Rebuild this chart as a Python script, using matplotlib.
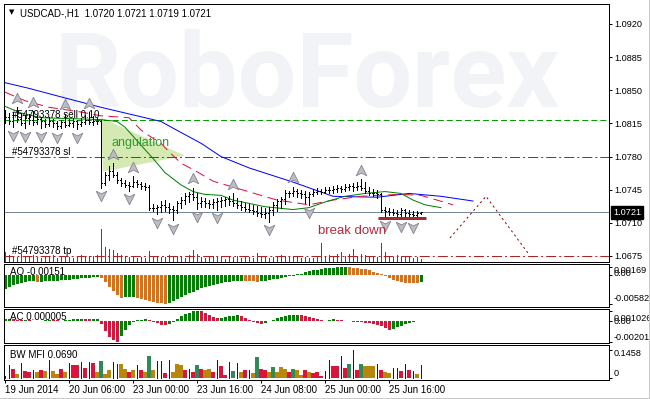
import matplotlib
matplotlib.use("Agg")
import matplotlib.pyplot as plt
import numpy as np
from matplotlib.transforms import ScaledTranslation, blended_transform_factory
from matplotlib.patches import Polygon
from matplotlib.path import Path
from matplotlib.lines import Line2D

plt.rcParams['font.family'] = ['Liberation Sans', 'DejaVu Sans']
plt.rcParams['lines.scale_dashes'] = False

# ---------------- data ----------------
header_text = "USDCAD-,H1  1.0720 1.0721 1.0719 1.0721"
open_first = 1.0818
highs = [
    1.0829, 1.0826, 1.0827, 1.0832, 1.0826, 1.0824, 1.0825, 1.0828, 1.0824, 1.0822,
    1.0820, 1.0822, 1.0820, 1.0818, 1.0819, 1.0825, 1.0820, 1.0821, 1.0819, 1.0821,
    1.0824, 1.0827, 1.0823, 1.0821, 1.0819, 1.0764, 1.0770, 1.0773, 1.0764, 1.0757,
    1.0755, 1.0753, 1.0759, 1.0755, 1.0753, 1.0752, 1.0750, 1.0730, 1.0729, 1.0733,
    1.0734, 1.0731, 1.0728, 1.0733, 1.0737, 1.0741, 1.0743, 1.0747, 1.0742, 1.0737,
    1.0736, 1.0734, 1.0735, 1.0736, 1.0737, 1.0737, 1.0738, 1.0741, 1.0736, 1.0733,
    1.0731, 1.0730, 1.0729, 1.0728, 1.0727, 1.0726, 1.0727, 1.0732, 1.0735, 1.0737,
    1.0745, 1.0744, 1.0748, 1.0746, 1.0745, 1.0744, 1.0743, 1.0746, 1.0747, 1.0746,
    1.0748, 1.0748, 1.0749, 1.0750, 1.0749, 1.0751, 1.0751, 1.0752, 1.0753, 1.0756,
    1.0753, 1.0748, 1.0746, 1.0745, 1.0742, 1.0727, 1.0726, 1.0725, 1.0724, 1.0726,
    1.0725, 1.0724, 1.0722, 1.0722, 1.0721]
lows = [
    1.0815, 1.0814, 1.0811, 1.0816, 1.0813, 1.0810, 1.0814, 1.0813, 1.0814, 1.0810,
    1.0811, 1.0812, 1.0811, 1.0809, 1.0810, 1.0811, 1.0812, 1.0811, 1.0809, 1.0812,
    1.0814, 1.0814, 1.0813, 1.0814, 1.0747, 1.0750, 1.0755, 1.0758, 1.0752, 1.0749,
    1.0748, 1.0744, 1.0748, 1.0748, 1.0746, 1.0745, 1.0723, 1.0722, 1.0719, 1.0721,
    1.0722, 1.0720, 1.0713, 1.0720, 1.0726, 1.0730, 1.0732, 1.0734, 1.0725, 1.0727,
    1.0727, 1.0726, 1.0726, 1.0724, 1.0727, 1.0728, 1.0729, 1.0728, 1.0726, 1.0724,
    1.0722, 1.0721, 1.0719, 1.0717, 1.0716, 1.0715, 1.0711, 1.0718, 1.0722, 1.0726,
    1.0730, 1.0737, 1.0738, 1.0737, 1.0736, 1.0731, 1.0729, 1.0738, 1.0740, 1.0740,
    1.0741, 1.0742, 1.0742, 1.0743, 1.0743, 1.0744, 1.0745, 1.0744, 1.0745, 1.0745,
    1.0742, 1.0739, 1.0738, 1.0736, 1.0721, 1.0716, 1.0718, 1.0718, 1.0717, 1.0715,
    1.0717, 1.0716, 1.0714, 1.0716, 1.0719]
closes = [
    1.0822, 1.0818, 1.0824, 1.0820, 1.0815, 1.0821, 1.0819, 1.0816, 1.0820, 1.0817,
    1.0814, 1.0818, 1.0815, 1.0812, 1.0816, 1.0813, 1.0815, 1.0817, 1.0814, 1.0816,
    1.0819, 1.0816, 1.0818, 1.0817, 1.0752, 1.0760, 1.0765, 1.0760, 1.0755, 1.0752,
    1.0750, 1.0749, 1.0753, 1.0751, 1.0749, 1.0748, 1.0726, 1.0726, 1.0727, 1.0729,
    1.0727, 1.0725, 1.0724, 1.0731, 1.0734, 1.0738, 1.0740, 1.0737, 1.0731, 1.0733,
    1.0731, 1.0730, 1.0732, 1.0733, 1.0734, 1.0735, 1.0733, 1.0731, 1.0729, 1.0727,
    1.0725, 1.0723, 1.0722, 1.0720, 1.0719, 1.0720, 1.0723, 1.0729, 1.0733, 1.0735,
    1.0742, 1.0741, 1.0744, 1.0742, 1.0740, 1.0737, 1.0740, 1.0743, 1.0744, 1.0743,
    1.0745, 1.0745, 1.0746, 1.0747, 1.0746, 1.0748, 1.0749, 1.0748, 1.0749, 1.0747,
    1.0744, 1.0742, 1.0741, 1.0740, 1.0723, 1.0722, 1.0721, 1.0720, 1.0719, 1.0723,
    1.0720, 1.0719, 1.0718, 1.0720, 1.0721]
volumes = [
    700, 500, 420, 380, 560, 350, 420, 480, 330, 300,
    420, 350, 520, 300, 380, 450, 330, 300, 380, 460,
    330, 420, 450, 520, 2300, 1050, 900, 850, 600, 500,
    400, 330, 450, 280, 330, 300, 780, 330, 450, 380,
    330, 520, 400, 450, 330, 300, 480, 840, 560, 380,
    300, 330, 400, 330, 450, 230, 380, 330, 450, 300,
    380, 330, 280, 620, 450, 400, 300, 380, 450, 520,
    400, 330, 450, 380, 280, 330, 280, 300, 350, 1330,
    380, 520, 450, 560, 700, 450, 560, 900, 450, 560,
    520, 450, 400, 380, 1330, 700, 450, 380, 520, 450,
    330, 380, 280, 330, 230]
up_fractals = [3, 7, 15, 21, 27, 32, 47, 57, 72, 89]
down_fractals = [2, 5, 9, 13, 18, 24, 31, 38, 42, 48, 53, 66, 76, 95, 99, 102]

jaw_x = [0, 6, 14, 24, 32, 39, 42, 49, 54, 61, 72, 82, 93, 101, 109, 117]
jaw_y = [1.0858, 1.0852, 1.0843, 1.0832, 1.0824, 1.0817, 1.0810, 1.0794, 1.0780,
         1.0768, 1.0753, 1.0738, 1.0737, 1.0741, 1.0738, 1.0733]
teeth_x = [0, 5, 11, 19, 24, 31, 34, 36, 39, 41, 44, 48, 52, 60, 68, 76, 82, 89, 93, 99, 104, 112]
teeth_y = [1.0848, 1.0839, 1.0832, 1.0827, 1.0823, 1.0821, 1.0808, 1.0802, 1.0794, 1.0785,
           1.0773, 1.0764, 1.0754, 1.0744, 1.0734, 1.0729, 1.0734, 1.0738, 1.0739, 1.0740,
           1.0739, 1.0729]
lips_x = [0, 4, 9, 24, 28, 30, 34, 37, 40, 44, 47, 50, 54, 57, 65, 72, 76, 80, 85, 90,
          95, 99, 102, 105, 109]
lips_y = [1.0833, 1.0826, 1.0821, 1.0819, 1.0817, 1.0811, 1.0792, 1.0778, 1.0763, 1.0750,
          1.0743, 1.0740, 1.0739, 1.0734, 1.0727, 1.0724, 1.0726, 1.0732, 1.0738, 1.0741,
          1.0743, 1.0741, 1.0734, 1.0729, 1.0726]

ao_values = [
    -0.00285, -0.00246, -0.00207, -0.00181, -0.00162, -0.00142, -0.00129, -0.00116, -0.00150, -0.00140,
    -0.00132, -0.00126, -0.00120, -0.00114, -0.00108, -0.00100, -0.00092, -0.00085, -0.00078, -0.00070,
    -0.00062, -0.00054, -0.00046, -0.00040, -0.00065, -0.00150, -0.00240, -0.00330, -0.00410, -0.00470,
    -0.00455, -0.00445, -0.00440, -0.00460, -0.00490, -0.00510, -0.00530, -0.00550, -0.00565, -0.00575,
    -0.00582, -0.00560, -0.00530, -0.00490, -0.00450, -0.00410, -0.00370, -0.00335, -0.00300, -0.00270,
    -0.00245, -0.00222, -0.00200, -0.00180, -0.00163, -0.00148, -0.00135, -0.00125, -0.00118, -0.00112,
    -0.00118, -0.00124, -0.00130, -0.00136, -0.00128, -0.00118, -0.00105, -0.00090, -0.00075, -0.00060,
    -0.00045, -0.00030, -0.00015, 0.00010, 0.00030, 0.00055, 0.00075, 0.00095, 0.00110, 0.00125,
    0.00135, 0.00145, 0.00150, 0.00155, 0.00160, 0.00169, 0.00160, 0.00150, 0.00140, 0.00130,
    0.00115, 0.00095, 0.00070, 0.00040, 0.00010, -0.00020, -0.00060, -0.00100, -0.00130, -0.00145,
    -0.00155, -0.00160, -0.00163, -0.00165, -0.00151]
ac_values = [
    0.00015, 0.00020, 0.00018, 0.00012, 0.00010, 0.00014, 0.00008, 0.00004, -0.00002, 0.00003,
    0.00008, 0.00012, 0.00010, 0.00006, 0.00003, 0.00008, 0.00012, 0.00016, 0.00020, 0.00024,
    0.00020, 0.00016, 0.00020, 0.00024, -0.00030, -0.00100, -0.00160, -0.00185, -0.00201, -0.00150,
    -0.00090, -0.00040, -0.00010, 0.00005, 0.00012, 0.00018, 0.00008, -0.00005, -0.00020, -0.00035,
    -0.00040, -0.00025, -0.00005, 0.00020, 0.00045, 0.00065, 0.00080, 0.00095, 0.001026, 0.00095,
    0.00080, 0.00060, 0.00040, 0.00025, 0.00030, 0.00038, 0.00045, 0.00050, 0.00055, 0.00045,
    0.00030, 0.00010, -0.00008, -0.00020, -0.00025, -0.00015, 0.00000, 0.00012, 0.00025, 0.00035,
    0.00045, 0.00055, 0.00060, 0.00062, 0.00055, 0.00045, 0.00035, 0.00025, 0.00015, 0.00008,
    0.00002, 0.00012, 0.00015, 0.00010, 0.00005, 0.00002, -0.00002, -0.00005, -0.00008, -0.00012,
    -0.00016, -0.00020, -0.00025, -0.00035, -0.00050, -0.00070, -0.00092, -0.00080, -0.00060, -0.00045,
    -0.00030, -0.00018, -0.00010, -0.00004, 0.000005]
mfi_values = [
    0.012, 0.065, 0.045, 0.020, 0.077, 0.034, 0.031, 0.043, 0.030, 0.039,
    0.034, 0.094, 0.034, 0.020, 0.048, 0.030, 0.079, 0.065, 0.065, 0.082,
    0.053, 0.082, 0.077, 0.030, 0.086, 0.022, 0.040, 0.080, 0.074, 0.074,
    0.048, 0.031, 0.040, 0.069, 0.043, 0.030, 0.111, 0.039, 0.086, 0.086,
    0.027, 0.091, 0.030, 0.074, 0.065, 0.039, 0.048, 0.030, 0.065, 0.048,
    0.043, 0.048, 0.030, 0.094, 0.060, 0.017, 0.082, 0.034, 0.079, 0.030,
    0.043, 0.039, 0.025, 0.108, 0.048, 0.043, 0.030, 0.057, 0.030, 0.055,
    0.048, 0.030, 0.048, 0.039, 0.017, 0.039, 0.030, 0.025, 0.031, 0.010,
    0.034, 0.091, 0.062, 0.062, 0.111, 0.051, 0.070, 0.1458, 0.043, 0.070,
    0.062, 0.062, 0.060, 0.074, 0.039, 0.031, 0.026, 0.053, 0.051, 0.034,
    0.072, 0.043, 0.034, 0.020, 0.069]
mfi_codes = list("bbrnbrrbnr" "nbnnrnbrrb" "rbrngnnbbn" "nrnbrngnbb" "rbnnnrbrgr"
                 "nnrbrrbgbn" "rbngrrngnn" "nrgnnrnrrr" "bbrrbrgbrg" "nnnbrnnbbr" "brbnb")

price_ticks = [1.0920, 1.0885, 1.0850, 1.0815, 1.0780, 1.0745, 1.0710, 1.0675]
time_tick_bars = [0, 16, 32, 48, 64, 80, 96]
time_tick_labels = ["19 Jun 2014", "20 Jun 06:00", "23 Jun 00:00", "23 Jun 16:00",
                    "24 Jun 08:00", "25 Jun 00:00", "25 Jun 16:00"]
order_id = "#54793378"
sell_price = 1.0819
sl_price = 1.0780
tp_price = 1.0675
bid_price = 1.0721
breakdown_x = [93.25, 105.25]
breakdown_level = [1.0715, 1.0715]
zigzag_x = [111.25, 120.25, 130.75]
zigzag_y = [1.0694, 1.0738, 1.0678]
triangle_x = [24.0, 45.0, 24.5]
triangle_y = [1.0821, 1.0781, 1.0764]
ao_ticks = [0.00169, 0.0, -0.00582]
ao_tick_labels = ["0.00169", "0.00", "-0.00582"]
ac_ticks = [0.001026, 0.0, -0.00201]
ac_tick_labels = ["0.001026", "0.00", "-0.00201"]
mfi_ticks = [0.1458, 0.0]
mfi_tick_labels = ["0.1458", "0"]

# ---------------- figure / layout ----------------
W, H = 650, 399
fig = plt.figure(figsize=(W / 100, H / 100), dpi=100)
fig.patch.set_facecolor('white')
PX = 0.72  # one pixel in points
TICK_FS = 6.6


def rect(x0, y0, x1, y1):
    return [x0 / W, 1 - y1 / H, (x1 - x0) / W, (y1 - y0) / H]


main_rect = rect(4, 4, 609, 262)
ax_vol = fig.add_axes(main_rect, zorder=0)
ax = fig.add_axes(main_rect, zorder=1, sharex=ax_vol)
ax_ao = fig.add_axes(rect(4, 263.5, 609, 306.5), sharex=ax_vol)
ax_ac = fig.add_axes(rect(4, 308.5, 609, 343), sharex=ax_vol)
ax_mfi = fig.add_axes(rect(4, 345, 609, 379.5), sharex=ax_vol)
ax.patch.set_visible(False)

n = len(closes)
idx = np.arange(n)
opens = [open_first] + closes[:-1]

ax_vol.set_xlim(-0.25, 151)
ax.set_ylim(1.06686, 1.09411)
ax_vol.set_ylim(0, 258 * 70)

for a in (ax_vol, ax, ax_ao, ax_ac, ax_mfi):
    for s in a.spines.values():
        s.set_linewidth(PX)
        s.set_color('black')
    a.tick_params(axis='x', bottom=False, labelbottom=False)
    a.tick_params(axis='y', left=False, labelleft=False)

ax_vol.set_yticks([])
ax_vol.set_facecolor('white')

# watermark
wm = ax_vol.text(0.084, 0.60, "RoboForex", transform=ax_vol.transAxes,
                 fontsize=75, family=['Roboto', 'DejaVu Sans'], fontweight='bold',
                 color='#f2f3f7', ha='left', va='baseline', zorder=0)
fig.canvas.draw()
bb = wm.get_window_extent()
wm.set_fontsize(75 * 505 / bb.width)

# volumes
ax_vol.vlines(idx, 0, volumes, color='#008000', lw=PX, antialiased=False, zorder=2)

# angulation triangle
ax.add_patch(Polygon(list(zip(triangle_x, triangle_y)), closed=True,
                     facecolor='#d5eab2', edgecolor='none', zorder=1))

# horizontal order lines
ax.axhline(sell_price, color='#00a000', lw=PX, ls=(0, (4.3, 2.2)), zorder=2)
ax.axhline(sl_price, color='#b22222', lw=PX, ls=(0, (7.2, 2.2, 1.4, 2.2)), zorder=2)
ax.axhline(tp_price, color='#b22222', lw=PX, ls=(0, (7.2, 2.2, 1.4, 2.2)), zorder=2)
ax.axhline(bid_price, color='#778899', lw=PX, zorder=2)

# alligator lines
ax.plot(jaw_x, jaw_y, color='#0000ff', lw=PX, zorder=3)
ax.plot(teeth_x, teeth_y, color='#e0103c', lw=PX, ls=(0, (7, 4)), zorder=3)
ax.plot(lips_x, lips_y, color='#008000', lw=PX, zorder=3)

# OHLC bars
ax.vlines(idx, lows, highs, color='black', lw=PX, antialiased=False, zorder=4)
ax.hlines(opens, idx - 0.3, idx, color='black', lw=PX, antialiased=False, zorder=4)
ax.hlines(closes, idx, idx + 0.3, color='black', lw=PX, antialiased=False, zorder=4)

# fractals
up_path = Path([(0, 0.95), (0.8, -0.65), (0, -0.25), (-0.8, -0.65), (0, 0.95)],
               [Path.MOVETO, Path.LINETO, Path.LINETO, Path.LINETO, Path.CLOSEPOLY])
down_path = Path([(0, -0.95), (0.8, 0.65), (0, 0.25), (-0.8, 0.65), (0, -0.95)],
                 [Path.MOVETO, Path.LINETO, Path.LINETO, Path.LINETO, Path.CLOSEPOLY])
ax.plot(up_fractals, [highs[i] + 0.0009 for i in up_fractals], ls='none', marker=up_path,
        ms=9, mfc='#bdbdc6', mec='#84848f', mew=0.6, zorder=5)
ax.plot(down_fractals, [lows[i] - 0.0008 for i in down_fractals], ls='none', marker=down_path,
        ms=9, mfc='#bdbdc6', mec='#84848f', mew=0.6, zorder=5)

# drawn objects
ax.plot(breakdown_x, breakdown_level, color='#a52a2a', lw=3 * PX, solid_capstyle='butt', zorder=5)
ax.plot(zigzag_x, zigzag_y, color='#8b0000', lw=PX, ls=(0, (1.5, 2.2)), zorder=5)
ax.text(26.75, 1.07943, "angulation", color='#2f9a2f', fontsize=9, va='center', ha='left', zorder=6)
ax.text(78.25, 1.07014, "break down", color='#b8283c', fontsize=9.5, va='center', ha='left', zorder=6)
ax.text(1.75, sell_price, order_id + " sell 0.10", fontsize=7, va='bottom', ha='left', zorder=6)
ax.text(1.75, sl_price, order_id + " sl", fontsize=7, va='bottom', ha='left', zorder=6)
ax.text(1.75, tp_price, order_id + " tp", fontsize=7, va='bottom', ha='left', zorder=6)

# header
ax.text((9 - 4) / 605, (262 - 12.5) / 258, "\u25BC", transform=ax.transAxes, fontsize=5,
        va='center', ha='left', family=['DejaVu Sans'])
ax.text((20 - 4) / 605, (262 - 13) / 258, header_text, transform=ax.transAxes, fontsize=7,
        va='center', ha='left')

# right price axis
for a in (ax, ax_ao, ax_ac, ax_mfi):
    a.yaxis.tick_right()
    a.tick_params(axis='y', right=True, labelright=True, left=False, labelleft=False,
                  direction='out', length=3 * PX, width=PX, labelsize=TICK_FS, pad=1.5)
ax.set_yticks(price_ticks)
ax.set_yticklabels([f"{v:.4f}" for v in price_ticks])

bt = blended_transform_factory(ax.transAxes, ax.transData)
ax.text((613 - 4) / 605, bid_price, f"{bid_price:.4f}", transform=bt, color='white', fontsize=TICK_FS,
        va='center', ha='left', clip_on=False, zorder=10,
        bbox=dict(boxstyle='square,pad=0.25', facecolor='black', edgecolor='black'))


def shift_labels(a, offsets):
    for lab, off in zip(a.get_yticklabels(), offsets):
        lab.set_transform(lab.get_transform() + ScaledTranslation(0, -off / 100, fig.dpi_scale_trans))


# AO
ao_col = ['#008000' if (i == 0 or ao_values[i] > ao_values[i - 1]) else '#d9701e' for i in range(n)]
ax_ao.bar(idx, ao_values, width=0.75, color=ao_col, linewidth=0, antialiased=False)
ax_ao.set_ylim(-0.00639, 0.00233)
ax_ao.set_yticks(ao_ticks)
ax_ao.set_yticklabels(ao_tick_labels)
shift_labels(ax_ao, [3, -2.5, -6])
ax_ao.text((10 - 4) / 605, (306.5 - 272) / 43, "AO -0.00151", transform=ax_ao.transAxes,
           fontsize=7, va='center', ha='left')

# AC
ac_col = ['#008000' if (i == 0 or ac_values[i] > ac_values[i - 1]) else '#dc143c' for i in range(n)]
ax_ac.bar(idx, ac_values, width=0.75, color=ac_col, linewidth=0, antialiased=False)
ax_ac.set_ylim(-0.002156, 0.001225)
ax_ac.set_yticks(ac_ticks)
ax_ac.set_yticklabels(ac_tick_labels)
shift_labels(ax_ac, [6.5, 0, -5])
ax_ac.text((10 - 4) / 605, (343 - 317.5) / 34.5, "AC 0.000005", transform=ax_ac.transAxes,
           fontsize=7, va='center', ha='left')

# BW MFI
mfi_map = {'g': '#2e8b57', 'b': '#0000ff', 'r': '#dc143c', 'n': '#b8860b'}
wide = [i for i in range(n) if mfi_codes[i] != 'b']
thin = [i for i in range(n) if mfi_codes[i] == 'b']
ax_mfi.bar([idx[i] for i in wide], [mfi_values[i] for i in wide], width=0.8,
           color=[mfi_map[mfi_codes[i]] for i in wide], linewidth=0, antialiased=False)
ax_mfi.vlines([idx[i] for i in thin], 0, [mfi_values[i] for i in thin], color='#0000ff',
              lw=PX, antialiased=False)
ax_mfi.set_ylim(-0.0077, 0.1694)
ax_mfi.set_yticks(mfi_ticks)
ax_mfi.set_yticklabels(mfi_tick_labels)
shift_labels(ax_mfi, [2.5, -6])
ax_mfi.text((10 - 4) / 605, (379.5 - 354.5) / 34.5, "BW MFI " + "0.0690", transform=ax_mfi.transAxes,
            fontsize=7, va='center', ha='left')

# time axis
ax_mfi.set_xticks(time_tick_bars)
ax_mfi.set_xticklabels(time_tick_labels)
ax_mfi.tick_params(axis='x', bottom=True, labelbottom=True, direction='out',
                   length=3 * PX, width=PX, labelsize=7, pad=1.5)
for lab in ax_mfi.get_xticklabels():
    lab.set_ha('left')
ax_vol.set_xlim(-0.25, 151)

# outer frame
fig.add_artist(Line2D([0, 1], [1.5 / H, 1.5 / H], color='#c8c8c8', lw=PX))
fig.add_artist(Line2D([648.5 / W, 648.5 / W], [0, 1], color='#c8c8c8', lw=PX))

fig.savefig("out.png", dpi=100, facecolor='white')
